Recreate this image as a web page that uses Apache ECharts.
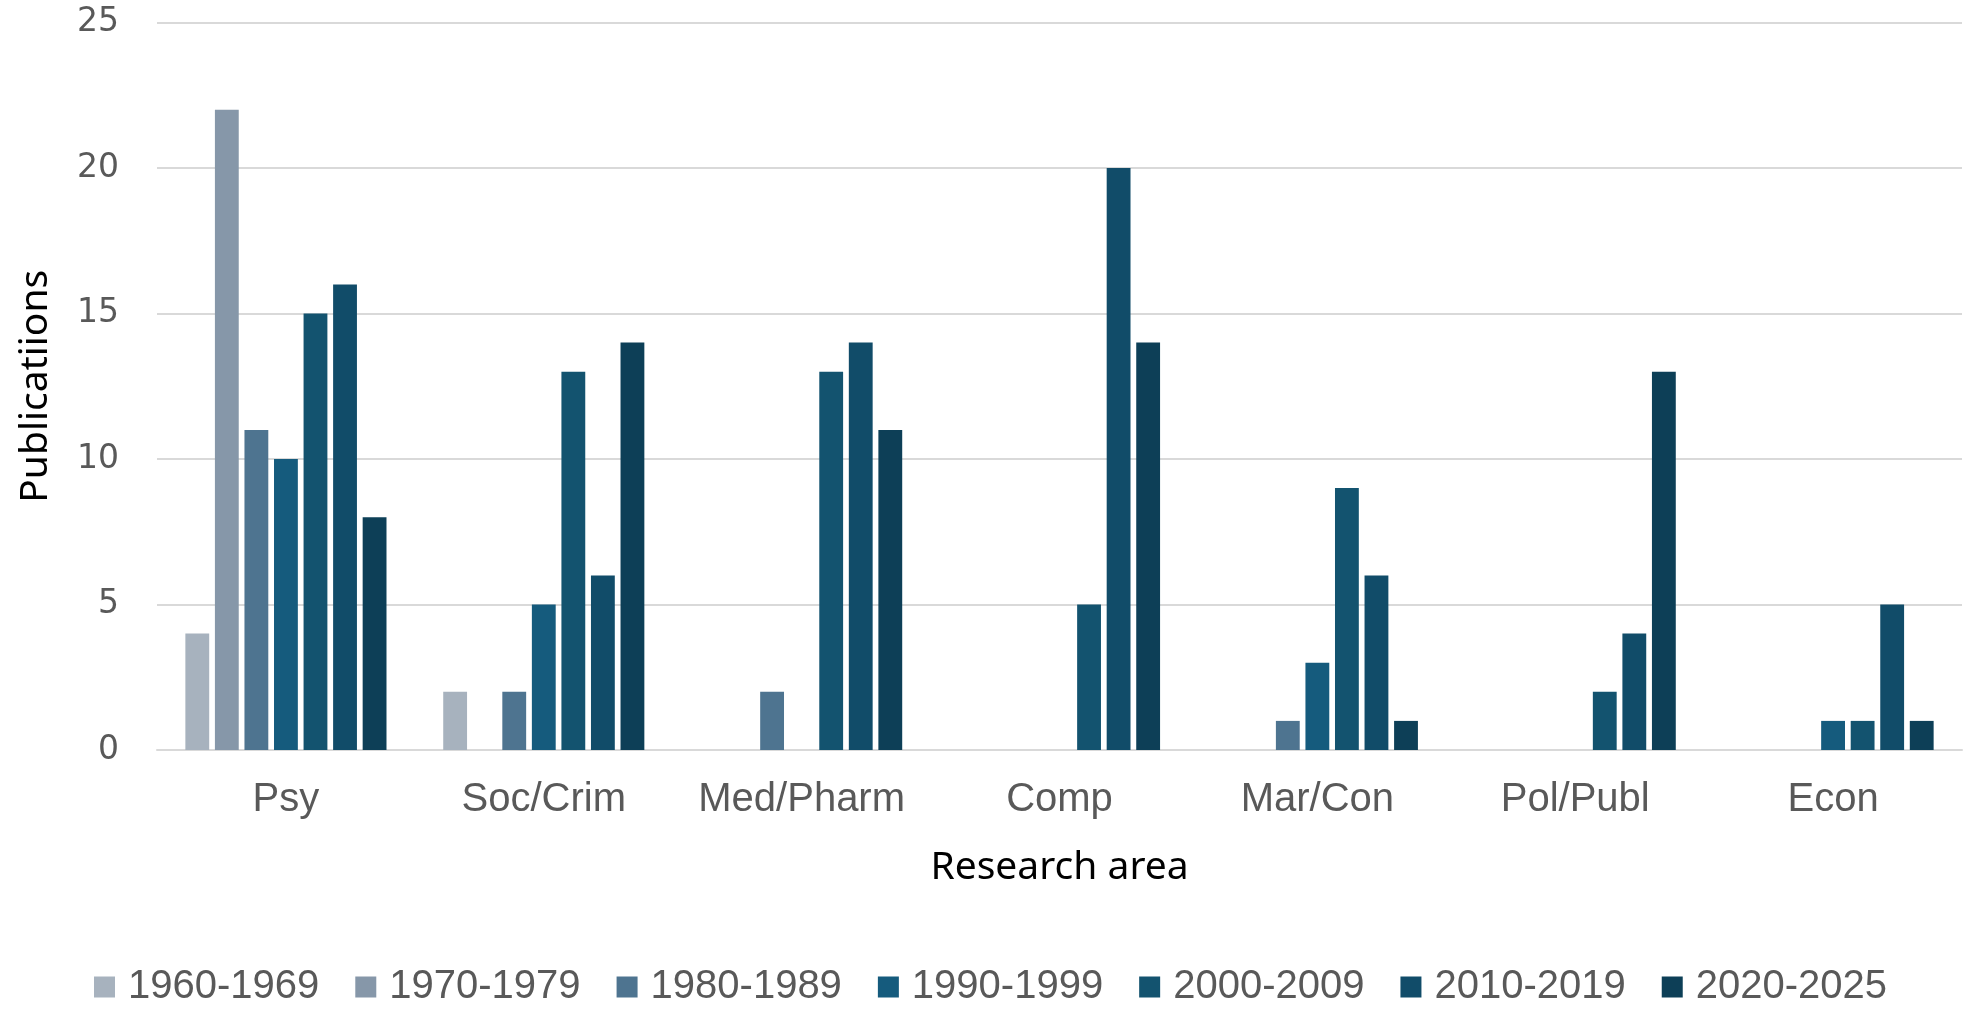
<!DOCTYPE html>
<html>
<head>
<meta charset="utf-8">
<script src="https://cdn.jsdelivr.net/npm/echarts@6/dist/echarts.min.js"></script>
<style>html,body{margin:0;padding:0;background:#fff;}#c{width:1964px;height:1010px;}</style>
</head>
<body>
<div id="c"></div>
<script>
const categories = ['Psy', 'Soc/Crim', 'Med/Pharm', 'Comp', 'Mar/Con', 'Pol/Publ', 'Econ'];
const periods = ['1960-1969', '1970-1979', '1980-1989', '1990-1999', '2000-2009', '2010-2019', '2020-2025'];
const s1960 = [4, 2, 0, 0, 0, 0, 0];
const s1970 = [22, 0, 0, 0, 0, 0, 0];
const s1980 = [11, 2, 2, 0, 1, 0, 0];
const s1990 = [10, 5, 0, 0, 3, 0, 1];
const s2000 = [15, 13, 13, 5, 9, 2, 1];
const s2010 = [16, 6, 14, 20, 6, 4, 5];
const s2020 = [8, 14, 11, 14, 1, 13, 1];
const yTicks = [0, 5, 10, 15, 20, 25];
const colors = ['#A7B2BE', '#8697A9', '#4E7490', '#155B7D', '#13536F', '#114C69', '#0D3F57'];
const seriesData = [s1960, s1970, s1980, s1990, s2000, s2010, s2020];

const chart = echarts.init(document.getElementById('c'), null, {renderer: 'canvas'});
chart.setOption({
  animation: false,
  backgroundColor: '#fff',
  grid: {left: 157, right: 2, top: 22.5, bottom: 260, containLabel: false},
  legend: {
    data: periods,
    top: 967,
    left: 94,
    padding: 0,
    itemWidth: 21,
    itemHeight: 21,
    itemGap: 36,
    icon: 'rect',
    textStyle: {fontFamily: 'Liberation Sans', fontSize: 40, color: '#595959', padding: [0, 0, 0, 8]}
  },
  xAxis: {
    type: 'category',
    data: categories,
    name: 'Research area',
    nameLocation: 'middle',
    nameGap: 98,
    nameTextStyle: {fontFamily: 'Noto Sans', fontSize: 39, color: '#000'},
    axisTick: {show: false},
    axisLine: {lineStyle: {color: '#D9D9D9', width: 2}},
    axisLabel: {interval: 0, fontFamily: 'Liberation Sans', fontSize: 40, color: '#595959', margin: 30}
  },
  yAxis: {
    type: 'value',
    min: yTicks[0],
    max: yTicks[yTicks.length - 1],
    interval: 5,
    name: 'Publicatiions',
    nameLocation: 'middle',
    nameGap: 102,
    nameTextStyle: {fontFamily: 'Noto Sans', fontSize: 39, color: '#000'},
    axisLine: {show: false},
    axisTick: {show: false},
    splitLine: {lineStyle: {color: '#D9D9D9', width: 2}},
    axisLabel: {fontFamily: 'DejaVu Sans', fontSize: 33, color: '#595959', margin: 38}
  },
  series: periods.map((p, i) => ({
    name: p,
    type: 'bar',
    data: seriesData[i],
    barGap: '24%',
    barCategoryGap: '22%',
    itemStyle: {color: colors[i], borderWidth: 0}
  }))
});
</script>
</body>
</html>
